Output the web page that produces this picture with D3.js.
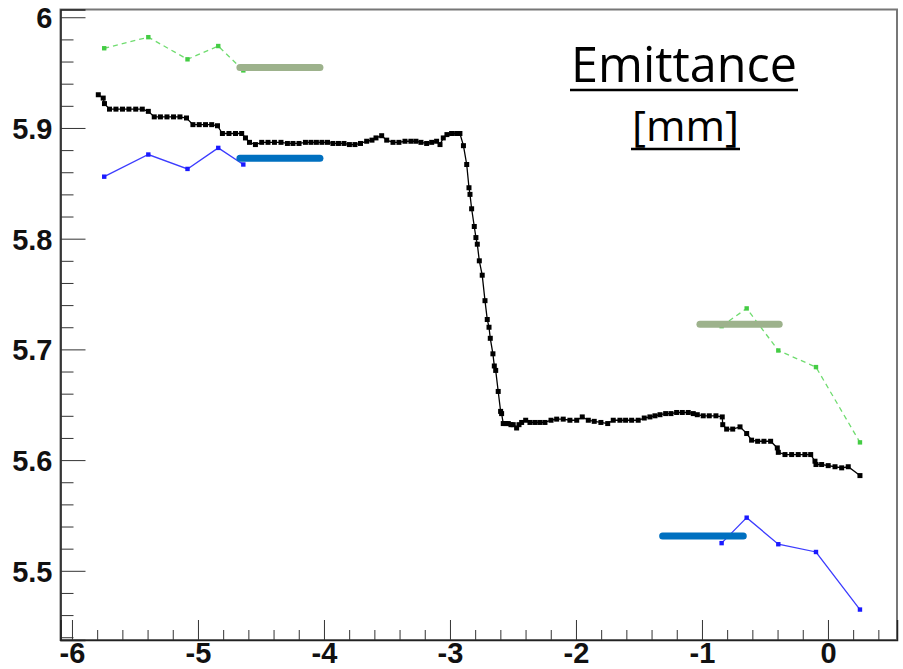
<!DOCTYPE html>
<html>
<head>
<meta charset="utf-8">
<script src="https://cdn.jsdelivr.net/npm/d3@7"></script>
<style>
  body { margin: 0; background: #fff; }
</style>
</head>
<body>
<div id="chart"></div>
<script>
// scan values (black curve)
const scanX = [-5.791, -5.752, -5.742, -5.702, -5.651, -5.599, -5.548, -5.494, -5.442, -5.394,
  -5.347, -5.298, -5.246, -5.194, -5.143, -5.091, -5.040, -4.990, -4.940, -4.891,
  -4.845, -4.806, -4.754, -4.702, -4.653, -4.623, -4.591, -4.544, -4.494, -4.444,
  -4.393, -4.341, -4.290, -4.246, -4.198, -4.147, -4.103, -4.060, -4.016, -3.972,
  -3.929, -3.885, -3.841, -3.798, -3.754, -3.710, -3.661, -3.619, -3.587, -3.542,
  -3.502, -3.452, -3.405, -3.357, -3.310, -3.270, -3.230, -3.185, -3.145, -3.106,
  -3.079, -3.053, -3.024, -2.987, -2.947, -2.921, -2.893, -2.867, -2.849, -2.841,
  -2.828, -2.807, -2.794, -2.783, -2.767, -2.744, -2.722, -2.704, -2.690, -2.680,
  -2.659, -2.648, -2.637, -2.617, -2.598, -2.590, -2.577, -2.556, -2.537, -2.516,
  -2.498, -2.471, -2.452, -2.431, -2.399, -2.365, -2.325, -2.286, -2.246, -2.198,
  -2.153, -2.101, -2.048, -1.994, -1.950, -1.902, -1.855, -1.802, -1.748, -1.704,
  -1.651, -1.606, -1.558, -1.506, -1.458, -1.413, -1.373, -1.333, -1.288, -1.246,
  -1.201, -1.156, -1.109, -1.069, -1.037, -0.990, -0.942, -0.889, -0.839, -0.835,
  -0.804, -0.756, -0.698, -0.645, -0.606, -0.558, -0.508, -0.455, -0.402, -0.394,
  -0.341, -0.288, -0.236, -0.183, -0.137, -0.103, -0.095, -0.050, 0.002, 0.056,
  0.109, 0.161, 0.254];
const scanY = [5.930, 5.927, 5.922, 5.917, 5.917, 5.917, 5.917, 5.917, 5.917, 5.915,
  5.910, 5.910, 5.910, 5.910, 5.910, 5.909, 5.903, 5.903, 5.903, 5.903,
  5.902, 5.895, 5.895, 5.895, 5.895, 5.891, 5.887, 5.885, 5.887, 5.887,
  5.887, 5.887, 5.886, 5.886, 5.886, 5.887, 5.887, 5.887, 5.887, 5.887,
  5.886, 5.886, 5.886, 5.885, 5.885, 5.886, 5.888, 5.889, 5.891, 5.893,
  5.889, 5.887, 5.887, 5.888, 5.888, 5.888, 5.887, 5.886, 5.887, 5.888,
  5.885, 5.891, 5.894, 5.895, 5.895, 5.895, 5.884, 5.867, 5.846, 5.840,
  5.827, 5.811, 5.801, 5.795, 5.780, 5.767, 5.744, 5.727, 5.720, 5.710,
  5.696, 5.685, 5.681, 5.662, 5.644, 5.642, 5.633, 5.633, 5.633, 5.632,
  5.632, 5.629, 5.632, 5.634, 5.636, 5.634, 5.634, 5.634, 5.634, 5.636,
  5.637, 5.637, 5.636, 5.636, 5.639, 5.636, 5.635, 5.634, 5.633, 5.636,
  5.636, 5.636, 5.636, 5.636, 5.638, 5.639, 5.640, 5.641, 5.642, 5.642,
  5.643, 5.643, 5.643, 5.642, 5.641, 5.640, 5.640, 5.640, 5.639, 5.632,
  5.628, 5.628, 5.630, 5.624, 5.618, 5.617, 5.617, 5.617, 5.611, 5.607,
  5.605, 5.605, 5.605, 5.605, 5.605, 5.599, 5.596, 5.596, 5.595, 5.594,
  5.593, 5.594, 5.586];

// upper (green, dashed) and lower (blue) envelopes, two groups each
const greenX = [[-5.744, -5.394, -5.083, -4.839, -4.640], [-0.844, -0.645, -0.394, -0.095, 0.254]];
const greenY = [[5.972, 5.982, 5.962, 5.974, 5.952], [5.721, 5.737, 5.699, 5.684, 5.616]];
const blueX = [[-5.744, -5.394, -5.083, -4.839, -4.640], [-0.844, -0.645, -0.394, -0.095, 0.254]];
const blueY = [[5.856, 5.876, 5.863, 5.882, 5.867], [5.525, 5.548, 5.524, 5.517, 5.465]];

// reference levels: [x start, x end, value]
const greenBars = [[-4.667, -4.032, 5.9545], [-1.016, -0.387, 5.7227]];
const blueBars = [[-4.667, -4.032, 5.8726], [-1.312, -0.672, 5.5314]];

const xTicks = [-6, -5, -4, -3, -2, -1, 0];
const xMinor = [-5.8, -5.6, -5.4, -5.2, -4.8, -4.6, -4.4, -4.2, -3.8, -3.6, -3.4, -3.2,
  -2.8, -2.6, -2.4, -2.2, -1.8, -1.6, -1.4, -1.2, -0.8, -0.6, -0.4, -0.2, 0.2, 0.4];
const yTicks = [5.5, 5.6, 5.7, 5.8, 5.9, 6];
const yMinor = [5.44, 5.46, 5.48, 5.52, 5.54, 5.56, 5.58, 5.62, 5.64, 5.66, 5.68,
  5.72, 5.74, 5.76, 5.78, 5.82, 5.84, 5.86, 5.88, 5.92, 5.94, 5.96, 5.98];
const titleLines = ["Emittance", "[mm]"];

const W = 903, H = 669;
const margin = { left: 60.5, top: 9.5, right: 6, bottom: 29 };
const w = W - margin.left - margin.right,
  h = H - margin.top - margin.bottom;

const svg = d3.select("#chart").append("svg")
  .attr("width", W).attr("height", H);
const g = svg.append("g")
  .attr("transform", `translate(${margin.left}, ${margin.top})`);

const x = d3.scaleLinear().domain([-6.091, 0.548]).range([0, w]);
const y = d3.scaleLinear().domain([5.4375, 6.007]).range([h, 0]);

// frame
g.append("rect")
  .attr("width", w).attr("height", h)
  .attr("fill", "none").attr("stroke", "#777").attr("stroke-width", 2);

// axes
const axisFont = "'Liberation Sans', Arial, sans-serif";
const yAx = g.append("g").call(d3.axisLeft(y).tickValues(yTicks).tickSize(-25).tickPadding(8)
  .tickFormat(d => d === 6 ? "6" : d3.format(".1f")(d)));
g.append("g").call(d3.axisLeft(y).tickValues(yMinor).tickSize(-13).tickFormat(""))
  .select(".domain").remove();
const xAx = g.append("g").attr("transform", `translate(0, ${h})`)
  .call(d3.axisBottom(x).tickValues(xTicks).tickSize(-20).tickPadding(7)
    .tickFormat(d => String(d)));
g.append("g").attr("transform", `translate(0, ${h})`)
  .call(d3.axisBottom(x).tickValues(xMinor).tickSize(-10).tickFormat(""))
  .select(".domain").remove();

[yAx, xAx].forEach(a => {
  a.select(".domain").attr("stroke", "#222").attr("stroke-width", 1.5);
  a.selectAll("text")
    .style("font-family", axisFont)
    .style("font-weight", "bold")
    .style("font-size", "29px")
    .attr("fill", "#111");
});
g.selectAll(".tick line").attr("stroke", "#333");
xAx.selectAll("text").attr("dy", "0.55em");
yAx.selectAll("text").attr("dy", "0.36em");

const toPts = (xs, ys) => xs.map((v, i) => [v, ys[i]]);
const line = d3.line().x(d => x(d[0])).y(d => y(d[1]));

// green dashed envelope
greenX.forEach((xs, k) => {
  const pts = toPts(xs, greenY[k]);
  g.append("path").attr("d", line(pts))
    .attr("fill", "none").attr("stroke", "#6fdc6f").attr("stroke-width", 1.3)
    .attr("stroke-dasharray", "5,4");
  g.selectAll(null).data(pts).enter().append("rect")
    .attr("x", d => x(d[0]) - 2.2).attr("y", d => y(d[1]) - 2.2)
    .attr("width", 4.4).attr("height", 4.4).attr("fill", "#44cc44");
});

// blue envelope
blueX.forEach((xs, k) => {
  const pts = toPts(xs, blueY[k]);
  g.append("path").attr("d", line(pts))
    .attr("fill", "none").attr("stroke", "#3c3cff").attr("stroke-width", 1.3);
  g.selectAll(null).data(pts).enter().append("rect")
    .attr("x", d => x(d[0]) - 2.2).attr("y", d => y(d[1]) - 2.2)
    .attr("width", 4.4).attr("height", 4.4).attr("fill", "#1a1aff");
});

// black scan
const scan = toPts(scanX, scanY);
g.append("path").attr("d", line(scan))
  .attr("fill", "none").attr("stroke", "#000").attr("stroke-width", 1.3);
g.selectAll(".scanpt").data(scan).enter().append("rect")
  .attr("class", "scanpt")
  .attr("x", d => x(d[0]) - 2.5).attr("y", d => y(d[1]) - 2.5)
  .attr("width", 5).attr("height", 5).attr("fill", "#000");

// reference bars
const drawBars = (data, color) => g.selectAll(null).data(data).enter().append("line")
  .attr("x1", d => x(d[0])).attr("x2", d => x(d[1]))
  .attr("y1", d => y(d[2])).attr("y2", d => y(d[2]))
  .attr("stroke", color).attr("stroke-width", 7).attr("stroke-linecap", "round");
drawBars(greenBars, "#9db28c");
drawBars(blueBars, "#0070c0");

// title
const titleFont = "'Open Sans', 'Noto Sans', sans-serif";
const title = svg.append("g");
[[titleLines[0], 684, 82, 42, 226], [titleLines[1], 685.5, 141, 42, 107]].forEach(([t, cx, base, fs, tw]) => {
  const txt = title.append("text").text(t)
    .attr("x", cx).attr("y", base).attr("text-anchor", "middle")
    .style("font-family", titleFont).style("font-size", fs + "px").attr("fill", "#000");
  const len = txt.node().getComputedTextLength();
  txt.style("font-size", (fs * tw / len).toFixed(1) + "px");
  title.append("line")
    .attr("x1", cx - tw / 2 - 1).attr("x2", cx + tw / 2 + 1)
    .attr("y1", base + 8).attr("y2", base + 8)
    .attr("stroke", "#000").attr("stroke-width", 2.5);
});
</script>
</body>
</html>
